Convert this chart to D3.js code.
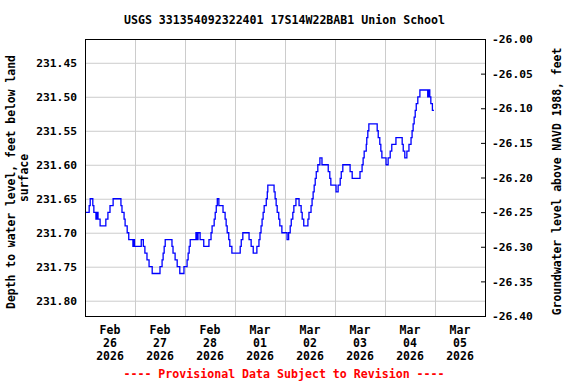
<!DOCTYPE html>
<html>
<head>
<meta charset="utf-8">
<script src="https://cdn.jsdelivr.net/npm/d3@7"></script>
<style>
  html, body { margin: 0; padding: 0; background: #fff; }
  svg text { font-family: "DejaVu Sans Mono", monospace; font-weight: bold; fill: #000; }
  .grid line { stroke: #cccccc; }
  .grid .domain { display: none; }
</style>
</head>
<body>
<div id="chart"></div>
<script>
const TITLE = "USGS 331354092322401 17S14W22BAB1 Union School";
const LEFT_LABEL = ["Depth to water level, feet below land", "surface"];
const RIGHT_LABEL = "Groundwater level above NAVD 1988, feet";
const FOOTNOTE = "---- Provisional Data Subject to Revision ----";

// hours after 2026-02-26 00:00 at which the reading changes
const changeHours = [
  0, 2, 2.5, 3.75, 4.25, 5.25, 5.75, 6.25, 7.25, 10,
  11, 12, 13.5, 17.25, 17.75, 18.75, 19.25, 20.25, 21, 23,
  23.5, 23.75, 27, 28, 28.75, 29.75, 30.75, 32.25, 36, 37,
  37.5, 38, 38.5, 41.75, 42.25, 43.25, 44.25, 45.5, 47.5, 49,
  49.5, 50, 50.5, 53.25, 53.75, 54.25, 55.25, 57, 59.5, 60.5,
  61, 62, 62.5, 63, 63.5, 64.25, 66.25, 67.25, 67.75, 68.25,
  69, 69.5, 70.5, 74.5, 75, 75.75, 78.75, 79.75, 80.75, 82.5,
  83.5, 84, 84.5, 85, 85.5, 86, 87, 87.5, 87.75, 90.75,
  91.25, 91.75, 92.25, 93, 93.5, 94.5, 97, 97.75, 98.5, 99,
  99.75, 100.25, 101.25, 102.75, 103.75, 104.25, 105, 107, 107.5, 108.5,
  109, 109.5, 110, 110.5, 111, 111.75, 112.75, 113.75, 116.75, 117.5,
  118, 120.5, 121.5, 122.5, 123, 123.75, 127.25, 128.25, 132, 133,
  133.5, 134, 135, 135.25, 135.75, 136.25, 140.25, 140.75, 141.5, 142,
  142.5, 144.5, 145.5, 146.5, 147.25, 149.25, 152.25, 152.75, 153.5, 154.5,
  155.5, 156.5, 157, 157.5, 158, 158.5, 159, 159.75, 160.75, 164.5,
  165, 165.5, 166, 166.75, 167.5
];
// depth to water, feet below land surface
const depthFt = [
  231.67, 231.66, 231.65, 231.66, 231.67, 231.68, 231.67, 231.68, 231.69, 231.68,
  231.67, 231.66, 231.65, 231.66, 231.67, 231.68, 231.69, 231.70, 231.71, 231.72,
  231.71, 231.72, 231.71, 231.72, 231.73, 231.74, 231.75, 231.76, 231.75, 231.74,
  231.73, 231.72, 231.71, 231.72, 231.73, 231.74, 231.75, 231.76, 231.75, 231.74,
  231.73, 231.72, 231.71, 231.70, 231.71, 231.70, 231.71, 231.72, 231.71, 231.70,
  231.69, 231.68, 231.67, 231.66, 231.65, 231.66, 231.67, 231.68, 231.69, 231.70,
  231.71, 231.72, 231.73, 231.72, 231.71, 231.70, 231.71, 231.72, 231.73, 231.72,
  231.71, 231.70, 231.69, 231.68, 231.67, 231.66, 231.65, 231.64, 231.63, 231.64,
  231.65, 231.66, 231.67, 231.68, 231.69, 231.70, 231.71, 231.70, 231.69, 231.68,
  231.67, 231.66, 231.65, 231.66, 231.67, 231.68, 231.69, 231.68, 231.67, 231.66,
  231.65, 231.64, 231.63, 231.62, 231.61, 231.60, 231.59, 231.60, 231.61, 231.62,
  231.63, 231.64, 231.63, 231.62, 231.61, 231.60, 231.61, 231.62, 231.61, 231.60,
  231.59, 231.58, 231.57, 231.56, 231.55, 231.54, 231.55, 231.56, 231.57, 231.58,
  231.59, 231.60, 231.59, 231.58, 231.57, 231.56, 231.57, 231.58, 231.59, 231.58,
  231.57, 231.56, 231.55, 231.54, 231.53, 231.52, 231.51, 231.50, 231.49, 231.50,
  231.49, 231.50, 231.51, 231.52, 231.52
];

const depthTicks = [231.45, 231.50, 231.55, 231.60, 231.65, 231.70, 231.75, 231.80];
const elevTicks = [-26.00, -26.05, -26.10, -26.15, -26.20, -26.25, -26.30, -26.35, -26.40];
const dayLabels = ["2026-02-26", "2026-02-27", "2026-02-28", "2026-03-01",
                   "2026-03-02", "2026-03-03", "2026-03-04", "2026-03-05"];

const W = 576, H = 384;
const plot = { left: 85, right: 485, top: 39, bottom: 316 };

const parseDay = d3.timeParse("%Y-%m-%d");
const days = dayLabels.map(parseDay);
const t0 = days[0];
const tEnd = d3.timeDay.offset(days[days.length - 1], 1);

const x = d3.scaleTime().domain([t0, tEnd]).range([plot.left, plot.right]);
const yDepth = d3.scaleLinear().domain([231.415, 231.8225]).range([plot.top, plot.bottom]);
const yElev = d3.scaleLinear().domain([-26.00, -26.40]).range([plot.top, plot.bottom]);

const fmt2 = v => v.toFixed(2);

const svg = d3.select("#chart").append("svg")
  .attr("width", W)
  .attr("height", H);

// horizontal grid + left labels
svg.append("g")
  .attr("class", "grid")
  .attr("transform", `translate(${plot.left},0)`)
  .call(d3.axisLeft(yDepth)
    .tickValues(depthTicks)
    .tickSize(-(plot.right - plot.left))
    .tickPadding(8)
    .tickFormat(fmt2))
  .call(g => g.selectAll("text").style("font-size", "11.3px"));

// vertical grid at midnight
svg.append("g")
  .attr("class", "grid")
  .attr("transform", `translate(0,${plot.bottom})`)
  .call(d3.axisBottom(x)
    .tickValues(days.slice(1))
    .tickSize(-(plot.bottom - plot.top))
    .tickFormat(""));

// right axis, inward ticks
svg.append("g")
  .attr("transform", `translate(${plot.right},0)`)
  .call(d3.axisRight(yElev)
    .tickValues(elevTicks)
    .tickSizeInner(-4)
    .tickSizeOuter(0)
    .tickPadding(7)
    .tickFormat(fmt2))
  .call(g => g.select(".domain").remove())
  .call(g => g.selectAll("line").attr("stroke", "#000"))
  .call(g => g.selectAll("text").style("font-size", "11.3px"));

// data line
const pts = changeHours.map((h, i) => ({ t: d3.timeMinute.offset(t0, Math.round(h * 60)), v: depthFt[i] }));
const line = d3.line()
  .x(d => x(d.t))
  .y(d => yDepth(d.v))
  .curve(d3.curveStepAfter);

svg.append("path")
  .datum(pts)
  .attr("d", line)
  .attr("fill", "none")
  .attr("stroke", "#0000ff")
  .attr("stroke-width", 1.3);

// frame
svg.append("rect")
  .attr("x", plot.left + 0.5)
  .attr("y", plot.top + 0.5)
  .attr("width", plot.right - plot.left)
  .attr("height", plot.bottom - plot.top)
  .attr("fill", "none")
  .attr("stroke", "#000")
  .attr("stroke-width", 1);

// day labels at noon
const dayG = svg.append("g").selectAll("text")
  .data(days)
  .enter()
  .append("text")
  .attr("text-anchor", "middle")
  .style("font-size", "11.5px")
  .attr("transform", d => `translate(${x(d3.timeHour.offset(d, 12))},0)`);
[["%b", 334], ["%d", 347], ["%Y", 360]].forEach(([f, yy]) => {
  dayG.append("tspan").attr("x", 0).attr("y", yy).text(d => d3.timeFormat(f)(d));
});

// title
svg.append("text")
  .attr("x", 284.5)
  .attr("y", 23.5)
  .attr("text-anchor", "middle")
  .style("font-size", "11.6px")
  .text(TITLE);

// axis titles
svg.append("text")
  .attr("transform", "translate(15,182) rotate(-90)")
  .attr("text-anchor", "middle")
  .style("font-size", "11.4px")
  .text(LEFT_LABEL[0]);
svg.append("text")
  .attr("transform", "translate(27.5,178) rotate(-90)")
  .attr("text-anchor", "middle")
  .style("font-size", "11.4px")
  .text(LEFT_LABEL[1]);
svg.append("text")
  .attr("transform", "translate(561,181.5) rotate(-90)")
  .attr("text-anchor", "middle")
  .style("font-size", "11.4px")
  .text(RIGHT_LABEL);

// footnote
svg.append("text")
  .attr("x", 284)
  .attr("y", 378)
  .attr("text-anchor", "middle")
  .style("font-size", "11.6px")
  .style("fill", "#ff0000")
  .text(FOOTNOTE);
</script>
</body>
</html>
